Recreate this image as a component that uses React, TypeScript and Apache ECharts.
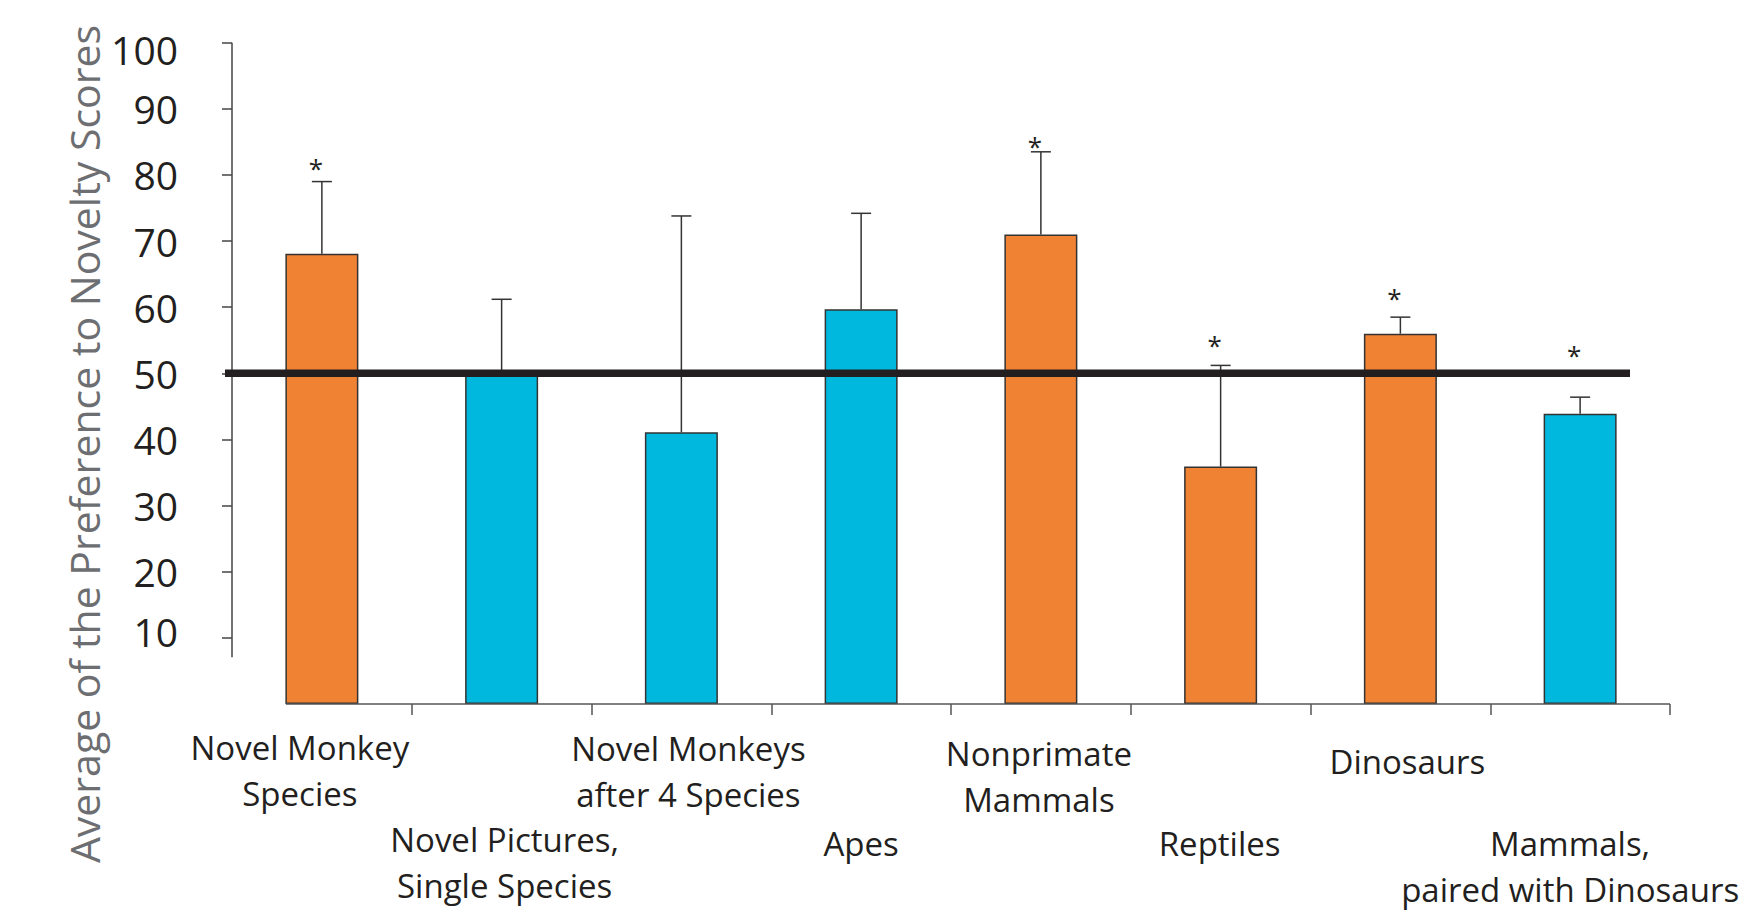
import React, { useEffect, useRef } from "react";
import * as echarts from "echarts";

// ---------- data ----------
const categories = [
  "Novel Monkey\nSpecies",
  "Novel Pictures,\nSingle Species",
  "Novel Monkeys\nafter 4 Species",
  "Apes",
  "Nonprimate\nMammals",
  "Reptiles",
  "Dinosaurs",
  "Mammals,\npaired with Dinosaurs",
];
const meanScores = [68.1, 50.0, 41.1, 59.7, 71.0, 35.9, 56.0, 43.9];
const errorTops = [79.0, 61.2, 73.8, 74.2, 83.5, 51.2, 58.5, 46.4];
const barGroups = ["orange", "blue", "blue", "blue", "orange", "orange", "orange", "blue"];
const starValues: (number | null)[] = [81.0, null, null, null, 84.4, 54.3, 61.4, 52.8];
const chanceLevel = 50;
const yTickValues = [10, 20, 30, 40, 50, 60, 70, 80, 90, 100];
const axisTitle = "Average of the Preference to Novelty Scores";

// ---------- layout / style ----------
const FONT = "'Open Sans', 'Noto Sans', sans-serif";
const groupColors: Record<string, string> = { orange: "#f08234", blue: "#00b8dd" };
const labelShiftX = [-22, 3, 7, 0, -2, -1, 7, -10];
const labelGapY = [11, 103, 12, 107, 17, 107, 25, 107];
const yAxisLineFrom = 7.06;
const baselineFrom = -0.2;

export default function App() {
  const ref = useRef<HTMLDivElement>(null);

  useEffect(() => {
    document.body.style.margin = "0";
    const chart = echarts.init(ref.current!, null, { renderer: "svg" });

    const rich: Record<string, any> = {};
    categories.forEach((_, i) => {
      const dx = labelShiftX[i];
      rich["g" + i] = { fontSize: 1, lineHeight: labelGapY[i] };
      rich["t" + i] = {
        fontSize: 33,
        lineHeight: 45.5,
        fontFamily: FONT,
        color: "#231f20",
        padding: dx < 0 ? [0, -2 * dx, 0, 0] : [0, 0, 0, 2 * dx],
      };
    });

    const catFormatter = (v: number) => {
      const i = Math.round(v);
      const lines = categories[i].split("\n");
      return `{g${i}| }\n` + lines.map((l) => `{t${i}|${l}}`).join("\n");
    };

    const labelAxis = (values: number[], withTicks: boolean) => ({
      type: "value",
      gridIndex: 0,
      position: "bottom",
      min: -0.5,
      max: 7.5,
      splitLine: { show: false },
      axisLine: { show: false, onZero: false },
      axisTick: {
        show: withTicks,
        length: 11,
        lineStyle: { color: "#555", width: 1.5 },
        customValues: categories.map((_, i) => i + 0.5),
      },
      axisLabel: {
        show: true,
        margin: 10,
        hideOverlap: false,
        showMinLabel: true,
        showMaxLabel: true,
        customValues: values,
        formatter: catFormatter,
        rich,
      },
    });

    const yRich = {
      n: { fontSize: 39, fontFamily: FONT, color: "#231f20" },
      d: { fontSize: 39, fontFamily: FONT, color: "#231f20", padding: [14, 0, 0, 0] },
      u: { fontSize: 39, fontFamily: FONT, color: "#231f20", padding: [0, 0, 12, 0] },
    };

    const option: any = {
      animation: false,
      textStyle: { fontFamily: FONT },
      grid: [
        { left: 232, right: 94, top: 42.7, bottom: 209, containLabel: false },
        { left: 225, right: 134, top: 42.7, bottom: 209, containLabel: false },
      ],
      xAxis: [
        labelAxis([0, 2, 4, 6], true),
        labelAxis([1, 3, 5, 7], false),
        { type: "value", gridIndex: 1, min: 0, max: 1, show: false },
      ],
      yAxis: [
        {
          type: "value",
          gridIndex: 0,
          min: 0,
          max: 100,
          interval: 10,
          splitLine: { show: false },
          axisLine: { show: false, onZero: false },
          axisTick: {
            show: true,
            length: 10,
            lineStyle: { color: "#444", width: 1.5 },
            customValues: yTickValues,
          },
          axisLabel: {
            show: true,
            margin: 54,
            customValues: yTickValues,
            formatter: (v: number) =>
              v === 100 ? `{d|${v}}` : v === 10 ? `{u|${v}}` : `{n|${v}}`,
            rich: yRich,
          },
        },
        { type: "value", gridIndex: 1, min: 0, max: 100, show: false },
      ],
      graphic: [
        {
          type: "text",
          x: 84,
          y: 444,
          rotation: Math.PI / 2,
          style: {
            text: axisTitle,
            fontSize: 41,
            fontFamily: FONT,
            fill: "#6d6e71",
            align: "center",
            verticalAlign: "middle",
          },
        },
      ],
      series: [
        {
          type: "bar",
          xAxisIndex: 0,
          yAxisIndex: 0,
          barWidth: 73,
          clip: false,
          data: meanScores.map((v, i) => ({
            value: [i, v],
            itemStyle: { color: groupColors[barGroups[i]], borderColor: "#333", borderWidth: 1.5 },
          })),
          markLine: {
            silent: true,
            symbol: ["none", "none"],
            label: { show: false },
            z: 5,
            data: [
              [
                { coord: [baselineFrom, 0], lineStyle: { color: "#555", width: 1.5, type: "solid" } },
                { coord: [7.5, 0] },
              ],
              [
                { coord: [-0.5, yAxisLineFrom], lineStyle: { color: "#444", width: 1.5, type: "solid" } },
                { coord: [-0.5, 100] },
              ],
            ],
          },
        },
        {
          type: "custom",
          xAxisIndex: 0,
          yAxisIndex: 0,
          z: 3,
          encode: { x: 0, y: 2 },
          data: meanScores.map((v, i) => [i, v, errorTops[i]]),
          renderItem: (params: any, api: any) => {
            const x = api.value(0);
            const p0 = api.coord([x, api.value(1)]);
            const p1 = api.coord([x, api.value(2)]);
            const st = { stroke: "#333", lineWidth: 1.5 };
            return {
              type: "group",
              children: [
                { type: "line", shape: { x1: p0[0], y1: p0[1], x2: p1[0], y2: p1[1] }, style: st },
                { type: "line", shape: { x1: p1[0] - 10, y1: p1[1], x2: p1[0] + 10, y2: p1[1] }, style: st },
              ],
            };
          },
        },
        {
          type: "custom",
          xAxisIndex: 0,
          yAxisIndex: 0,
          z: 4,
          encode: { x: 0, y: 1 },
          data: starValues
            .map((v, i) => (v == null ? null : [i, v]))
            .filter((d) => d !== null),
          renderItem: (params: any, api: any) => {
            const p = api.coord([api.value(0), api.value(1)]);
            return {
              type: "text",
              x: p[0] - 6,
              y: p[1],
              style: {
                text: "*",
                fontSize: 26,
                fontFamily: FONT,
                fill: "#231f20",
                align: "center",
                verticalAlign: "middle",
              },
            };
          },
        },
        {
          type: "line",
          xAxisIndex: 2,
          yAxisIndex: 1,
          z: 10,
          symbol: "none",
          silent: true,
          lineStyle: { color: "#231f20", width: 7.5 },
          data: [
            [0, chanceLevel],
            [1, chanceLevel],
          ],
        },
      ],
    };

    chart.setOption(option);
    return () => chart.dispose();
  }, []);

  return (
    <div
      ref={ref}
      style={{ position: "absolute", left: 0, top: 0, width: 1764, height: 913, background: "#fff" }}
    />
  );
}
